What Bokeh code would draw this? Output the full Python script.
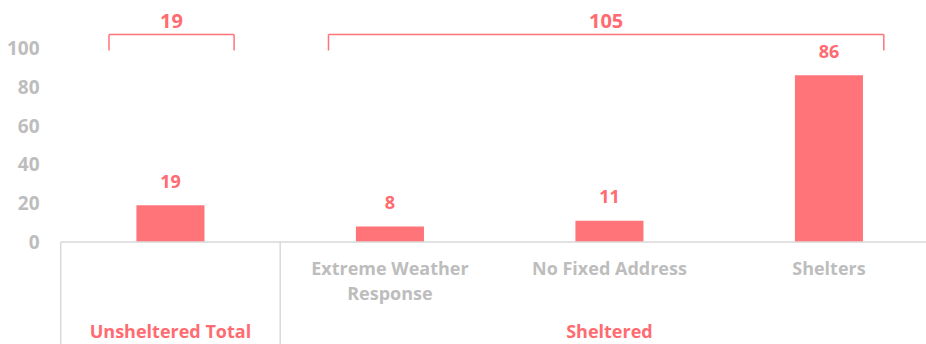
import numpy as np
from bokeh.plotting import figure
from bokeh.models import Range1d, FixedTicker, ColumnDataSource
from bokeh.core.properties import value
from bokeh.embed import file_html
from bokeh.resources import INLINE

# ---- data ----
categories = ["Unsheltered Total", "Extreme Weather Response", "No Fixed Address", "Shelters"]
cat_labels = ["", "Extreme Weather\nResponse", "No Fixed Address", "Shelters"]
counts = [19, 8, 11, 86]
groups = ["Unsheltered Total", "Sheltered"]
group_sizes = [1, 3]
group_totals = [19, 105]
y_ticks = [0, 20, 40, 60, 80, 100]

RED = "#FF7478"
RED_TXT = "#FF6B70"
GRAY = "#BDBDBD"
LINE = "#D9D9D9"
FONT = "Open Sans"

PX_PER_UNIT_Y = 1.94
PX_PER_CAT = 219.5
ZERO_Y = 241.5

W, H = 926, 344
left_border = 58
x_start = -0.01
x_end = x_start + (W - left_border) / PX_PER_CAT
y_top = ZERO_Y / PX_PER_UNIT_Y
y_bot = (ZERO_Y - H) / PX_PER_UNIT_Y

def py(page_y):
    return (ZERO_Y - page_y) / PX_PER_UNIT_Y

p = figure(width=W, height=H, output_backend="svg", toolbar_location=None,
           x_range=Range1d(x_start, x_end), y_range=Range1d(y_bot, y_top),
           x_axis_location=None, min_border_left=left_border, min_border_right=0,
           min_border_top=0, min_border_bottom=0)
p.outline_line_color = None
p.grid.visible = False
p.background_fill_color = "white"
p.border_fill_color = "white"

ya = p.yaxis[0]
ya.ticker = FixedTicker(ticks=y_ticks)
ya.axis_line_color = None
ya.major_tick_line_color = None
ya.minor_tick_line_color = None
ya.major_label_text_color = GRAY
ya.major_label_text_font = FONT
ya.major_label_text_font_style = "bold"
ya.major_label_text_font_size = "19px"
ya.major_label_standoff = 13

xc = np.arange(len(categories)) + 0.5
src = ColumnDataSource(dict(x=xc, top=counts, lab=[str(c) for c in counts]))

p.vbar(x="x", top="top", bottom=0, width=0.31, source=src, fill_color=RED, line_color=None)
p.text(x="x", y="top", text="lab", source=src, text_align="center", text_baseline="middle",
       y_offset=-24, text_color=RED_TXT, text_font=value(FONT), text_font_style="bold",
       text_font_size="18px")

# axis baseline and group separators
starts = np.concatenate([[0], np.cumsum(group_sizes)[:-1]])
ends = np.cumsum(group_sizes)
p.segment(x0=[0], y0=[0], x1=[x_end + 1], y1=[0], line_color=LINE, line_width=1.5)
p.segment(x0=starts, y0=[0] * len(starts), x1=starts, y1=[y_bot - 5] * len(starts),
          line_color=LINE, line_width=1.5)

# category labels (multi-line split)
lx, ly, lt, lo = [], [], [], []
for i, lab in enumerate(cat_labels):
    for j, line in enumerate(lab.split("\n")):
        if line:
            lx.append(xc[i]); ly.append(py(267)); lt.append(line); lo.append(j * 25.6)
p.text(x=lx, y=ly, text=lt, y_offset=lo, text_align="center", text_baseline="middle",
       text_color=GRAY, text_font=value(FONT), text_font_style="bold", text_font_size="18px")

# group labels
gx = (starts + ends) / 2
p.text(x=gx, y=[py(330)] * len(gx), text=groups, text_align="center", text_baseline="middle",
       text_color=RED_TXT, text_font=value(FONT), text_font_style="bold", text_font_size="18px")

# brackets with totals
bl = starts + 0.22
br = ends - 0.19 - 0.02 * np.array(group_sizes)
yb_top = py(34)
yb_low = py(50)
p.segment(x0=bl, y0=[yb_top] * len(bl), x1=br, y1=[yb_top] * len(bl), line_color=RED, line_width=1.5)
p.segment(x0=bl, y0=[yb_top] * len(bl), x1=bl, y1=[yb_low] * len(bl), line_color=RED, line_width=1.5)
p.segment(x0=br, y0=[yb_top] * len(bl), x1=br, y1=[yb_low] * len(bl), line_color=RED, line_width=1.5)
p.text(x=(bl + br) / 2, y=[py(20)] * len(bl), text=[str(t) for t in group_totals],
       text_align="center", text_baseline="middle", text_color=RED_TXT, text_font=value(FONT),
       text_font_style="bold", text_font_size="20px")

open("out.html", "w").write(file_html(p, INLINE))
